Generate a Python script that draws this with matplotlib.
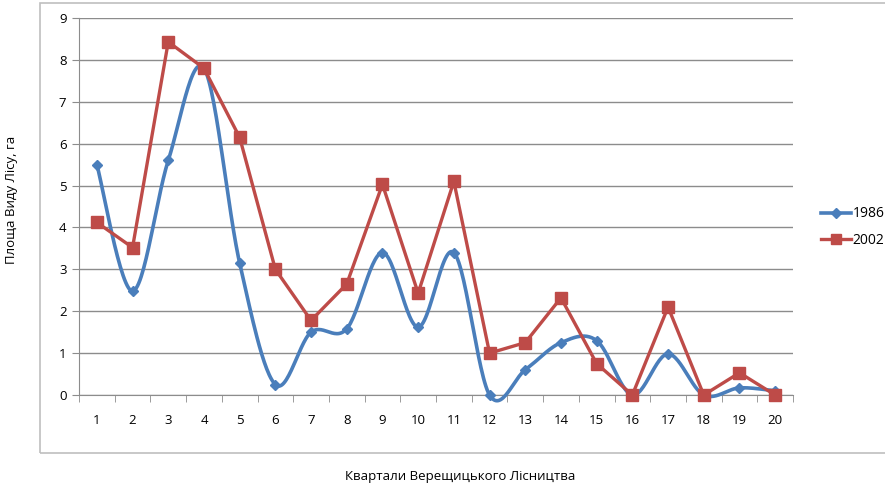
import numpy as np
import matplotlib
matplotlib.use("Agg")
import matplotlib.pyplot as plt
from matplotlib.patches import Rectangle
from matplotlib.lines import Line2D

plt.rcParams['font.family'] = ['Open Sans', 'DejaVu Sans']

quarters = list(range(1, 21))
area_1986 = [5.5, 2.48, 5.6, 7.8, 3.15, 0.25, 1.5, 1.58, 3.4, 1.62,
             3.4, 0.0, 0.6, 1.25, 1.3, 0.0, 0.98, 0.0, 0.17, 0.1]
area_2002 = [4.12, 3.52, 8.43, 7.8, 6.15, 3.0, 1.78, 2.65, 5.03, 2.43,
             5.1, 1.0, 1.25, 2.32, 0.75, 0.0, 2.1, 0.0, 0.53, 0.0]

blue = '#4A7EBB'
red = '#BE4B48'
grid_col = '#8C8C8C'


def smooth(x, y, n=30):
    # Catmull-Rom through the points (same curve as a "smoothed line" in office charts)
    x = np.asarray(x, float)
    y = np.asarray(y, float)
    px = np.concatenate([[x[0]], x, [x[-1]]])
    py = np.concatenate([[y[0]], y, [y[-1]]])
    xs, ys = [], []
    t = np.linspace(0, 1, n)
    for i in range(1, len(px) - 2):
        p0, p1, p2, p3 = [np.array([px[j], py[j]]) for j in (i - 1, i, i + 1, i + 2)]
        c1 = p1 + (p2 - p0) / 6
        c2 = p2 - (p3 - p1) / 6
        b = ((1 - t) ** 3)[:, None] * p1 + (3 * (1 - t) ** 2 * t)[:, None] * c1 \
            + (3 * (1 - t) * t ** 2)[:, None] * c2 + (t ** 3)[:, None] * p2
        xs.extend(b[:, 0])
        ys.extend(b[:, 1])
    return np.array(xs), np.array(ys)


fig = plt.figure(figsize=(8.85, 4.86), dpi=100)
fig.patches.append(Rectangle((40 / 885, 1 - 453 / 486), 860 / 885, 450 / 486,
                             transform=fig.transFigure, fill=False,
                             edgecolor='#BFBFBF', linewidth=1.2))

ax = fig.add_axes([79 / 885, 1 - 395 / 486, 714 / 885, 377 / 486])

sx, sy = smooth(quarters, area_1986)
ax.plot(sx, sy, color=blue, linewidth=2.6, solid_capstyle='round', zorder=3,
        clip_on=False)
ax.plot(quarters, area_1986, linestyle='none', marker='D', markersize=5.5,
        color=blue, zorder=4, clip_on=False)
ax.plot(quarters, area_2002, color=red, linewidth=2.4, marker='s',
        markersize=8, zorder=5, clip_on=False)

ax.set_xlim(0.5, 20.5)
ax.set_ylim(0, 9)
ax.set_yticks(range(0, 10))
ax.set_xticks(quarters)
ax.set_xticks(np.arange(0.5, 21, 1), minor=True)
ax.tick_params(axis='x', which='major', length=0, pad=14, labelsize=9.5)
ax.tick_params(axis='x', which='minor', length=5, color=grid_col, direction='out')
ax.tick_params(axis='y', length=5, color=grid_col, labelsize=9.5, pad=4)
ax.yaxis.grid(True, color=grid_col, linewidth=1)
ax.set_axisbelow(True)
for s in ('top', 'right'):
    ax.spines[s].set_visible(False)
for s in ('left', 'bottom'):
    ax.spines[s].set_color(grid_col)
ax.spines['bottom'].set_zorder(2.5)

fig.text(12 / 885, 1 - 200 / 486, 'Площа Виду Лісу, га', rotation=90,
         ha='center', va='center', fontsize=9.5)
fig.text(460 / 885, 1 - 476 / 486, 'Квартали Верещицького Лісництва',
         ha='center', va='center', fontsize=9.5)

handles = [Line2D([], [], color=blue, linewidth=2.6, marker='D', markersize=5.5),
           Line2D([], [], color=red, linewidth=2.4, marker='s', markersize=7)]
fig.legend(handles, ['1986', '2002'], loc='center left',
           bbox_to_anchor=(808 / 885, 1 - 227 / 486), frameon=False,
           fontsize=10, handlelength=2.2, handletextpad=0.1, labelspacing=0.8)

fig.savefig('out.png', dpi=100)
